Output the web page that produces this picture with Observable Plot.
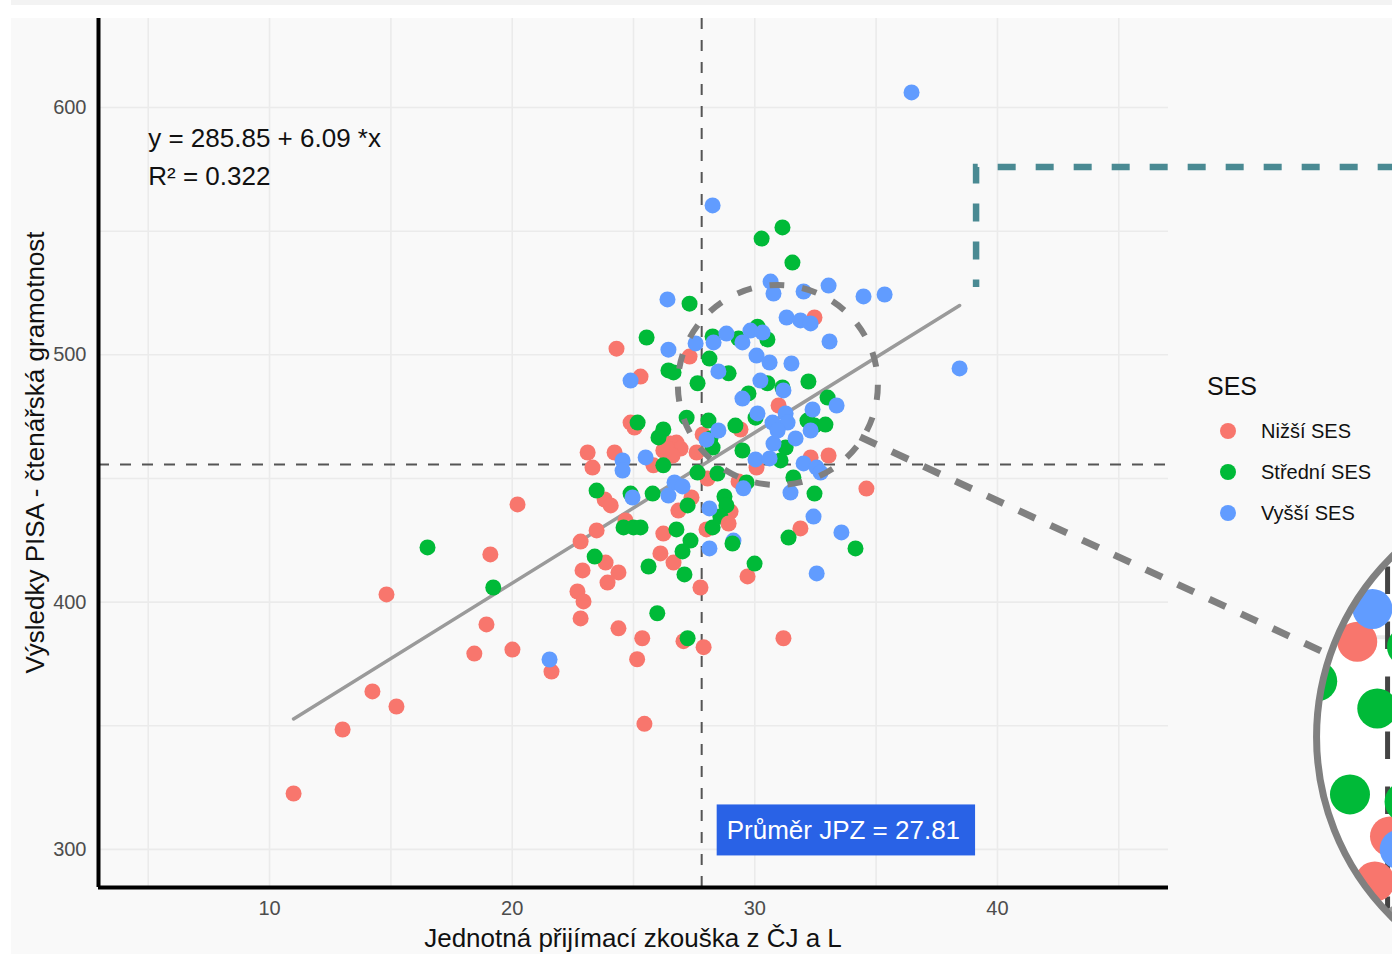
<!DOCTYPE html>
<html><head><meta charset="utf-8">
<script src="https://cdn.jsdelivr.net/npm/d3@7"></script>
<script src="https://cdn.jsdelivr.net/npm/@observablehq/plot@0.6"></script>
<style>
html,body{margin:0;padding:0;background:#fff;overflow:hidden;}
#chart{position:relative;width:1392px;height:954px;overflow:hidden;}
</style></head><body><div id="chart"></div>
<script>
// ---- categories & colours ----
const sesLevels = ["Nižší SES", "Střední SES", "Vyšší SES"];
const sesColors = ["#F8766D", "#00BA38", "#619CFF"];

// ---- series: Nižší SES ----
const lowX = [32.46,24.30,27.31,25.29,30.98,24.88,25.04,29.41,27.85,26.52,26.77,26.94,26.23,27.60,26.36,23.11,24.22,26.61,23.31,25.82,28.05,29.33,23.81,24.06,27.39,29.00,26.85,34.60,30.07,32.30,33.04,20.22,24.67,23.48,22.82,23.85,24.38,23.93,22.90,22.69,22.94,22.82,24.38,25.36,25.15,27.06,27.89,26.23,26.11,26.65,28.92,28.01,29.70,27.76,31.88,31.18,19.10,18.94,18.44,20.01,21.62,10.99,13.01,14.24,15.23,14.82,25.45];
const lowY = [515.1,502.5,499.3,491.2,479.5,472.6,470.6,469.8,467.8,464.1,464.5,462.1,461.3,460.5,462.5,460.5,460.5,459.3,454.4,455.3,450.0,448.8,441.5,439.1,442.3,436.6,437.0,445.9,454.4,458.5,459.3,439.5,433.0,429.0,424.5,416.0,412.0,407.9,412.8,404.3,400.3,393.4,389.4,385.4,376.9,384.2,381.8,427.7,419.7,416.0,431.8,429.4,410.4,405.9,429.8,385.4,419.3,391.0,379.2,380.8,371.9,322.6,348.5,363.9,357.8,403.1,350.8];
// ---- series: Střední SES ----
const midX = [30.28,31.14,31.55,27.31,25.54,28.26,29.33,30.11,30.52,28.13,26.44,26.65,28.92,27.64,30.52,31.14,32.21,29.74,33.00,30.03,32.17,32.46,32.91,27.19,28.09,25.17,29.20,26.23,26.03,28.17,28.26,29.49,31.27,26.23,27.64,28.46,29.66,23.48,24.88,25.79,27.23,28.75,28.83,28.58,31.59,32.46,31.06,24.59,25.00,25.29,23.40,25.98,27.23,26.77,27.35,27.02,27.10,25.62,28.26,29.08,29.99,31.39,34.15,16.51,19.22];
const midY = [547.0,551.5,537.3,520.7,507.0,507.4,506.6,511.4,506.2,498.5,493.7,492.9,492.5,488.5,488.5,486.8,489.2,484.4,482.7,474.6,473.4,471.4,471.8,474.6,473.4,472.6,471.4,469.8,466.6,466.2,462.5,461.3,462.5,455.3,452.4,452.0,448.4,445.1,443.9,443.9,439.1,442.7,439.1,434.6,450.4,443.9,457.3,430.2,430.2,430.2,418.4,395.5,385.4,429.4,424.9,420.5,411.2,414.4,430.2,423.7,415.6,426.1,421.7,422.1,405.9];
// ---- series: Vyšší SES ----
const highX = [36.46,28.26,30.65,30.77,32.01,33.04,34.48,35.35,26.40,31.31,31.88,32.30,33.08,26.44,28.30,27.56,28.83,29.49,29.82,30.32,30.07,30.61,31.51,24.88,28.50,30.23,31.18,29.49,33.37,32.38,30.11,31.27,31.35,30.73,28.50,28.01,31.68,30.77,30.94,32.30,24.55,24.55,25.50,26.69,27.02,29.53,24.96,26.44,28.13,32.42,31.47,30.03,30.61,32.01,32.55,32.71,29.12,28.13,33.57,32.55,21.54,38.44];
const highY = [606.1,560.4,529.6,524.8,525.6,528.0,523.6,524.4,522.4,515.1,513.9,512.7,505.4,502.1,505.0,504.6,508.6,505.0,509.8,509.0,499.7,496.9,496.5,489.6,493.3,489.6,485.6,482.3,479.5,477.9,476.3,476.3,472.6,472.6,469.4,465.7,466.2,464.1,469.4,469.4,457.3,453.2,458.5,448.4,446.8,446.0,442.3,443.1,437.9,434.6,444.3,457.7,458.1,456.1,454.4,452.4,424.9,421.7,428.2,411.6,376.8,494.5];

// ---- statistics (from the annotations) ----
const intercept = 285.85, slope = 6.09, rSquared = 0.322;
const meanJPZ = 27.81;
const meanPISA = 455.6;

// ---- ticks ----
const xTicks = [10, 20, 30, 40];
const yTicks = [300, 400, 500, 600];
const xMinor = [5, 15, 25, 35, 45];
const yMinor = [350, 450, 550];

// ---- texts ----
const xTitle = "Jednotná přijímací zkouška z ČJ a L";
const yTitle = "Výsledky PISA - čtenářská gramotnost";
const legendTitle = "SES";
const eqText = `y = ${intercept.toFixed(2)} + ${slope.toFixed(2)} *x\nR² = ${rSquared.toFixed(3)}`;
const meanLabel = `Průměr JPZ = ${meanJPZ.toFixed(2)}`;

const FONT = "Liberation Sans, Arial, Helvetica, sans-serif";

// build table
const series = [[lowX, lowY], [midX, midY], [highX, highY]];
const data = [];
const nMax = d3.max(series, s => s[0].length);
for (let i = 0; i < nMax; i++) {
  series.forEach(([xs, ys], k) => {
    if (i < xs.length) data.push({x: xs[i], y: ys[i], ses: sesLevels[k]});
  });
}

const xDomain = [2.95, 47.05];
const yDomain = [284.6, 636.0];
const xLo = d3.min(data, d => d.x), xHi = d3.max(data, d => d.x);
const regLine = [xLo, xHi].map(x => ({x, y: intercept + slope * x}));

// annotation geometry (data units)
const focus = {x: 30.95, y: 487.8, rPx: 100};
const lens = {cx: 63.6, cy: 345.3, rPx: 253, srcX: 30.81, srcY: 483.9, mag: 2.5};
const connector = [{x: 34.36, y: 466.6}, {x: 53.72, y: 378.4}];
const tealBox = [{x: 58, y: 575.7}, {x: 39.14, y: 575.7}, {x: 39.14, y: 527.2}];

const plot = Plot.plot({
  width: 1392, height: 954,
  marginTop: 18, marginBottom: 67, marginLeft: 98, marginRight: 224,
  x: {domain: xDomain, label: null},
  y: {domain: yDomain, label: null},
  color: {domain: sesLevels, range: sesColors},
  style: {background: "transparent", fontFamily: FONT, overflow: "visible"},
  marks: [
    Plot.gridX(xMinor.concat(xTicks), {stroke: "#ebebeb", strokeOpacity: 1, strokeWidth: 1.6}),
    Plot.gridY(yMinor.concat(yTicks), {stroke: "#ebebeb", strokeOpacity: 1, strokeWidth: 1.6}),
    Plot.ruleY([meanPISA], {stroke: "#555", strokeWidth: 2, strokeDasharray: "11,11"}),
    Plot.ruleX([meanJPZ], {stroke: "#555", strokeWidth: 2, strokeDasharray: "11,11"}),
    Plot.line(regLine, {x: "x", y: "y", stroke: "#9a9a9a", strokeWidth: 3.5}),
    Plot.dot(data, {x: "x", y: "y", fill: "ses", r: 8}),
    Plot.dot([focus], {x: "x", y: "y", r: focus.rPx, fill: "none", stroke: "#808080", strokeWidth: 6, strokeDasharray: "15,18"}),
    Plot.text([eqText], {x: 5, y: 581.2, text: d => d, textAnchor: "start", fontSize: 26, lineHeight: 1.45, fill: "#111", fontFamily: FONT}),
    Plot.text([meanLabel], {x: meanJPZ, y: 307.6, dx: 25, text: d => d, textAnchor: "start", fontSize: 26, fill: "white", fontFamily: FONT, className: "meanlabel"}),
    Plot.axisX(xTicks, {tickSize: 0, tickPadding: 13, fontSize: 20, color: "#4d4d4d", label: null}),
    Plot.axisY(yTicks, {tickSize: 0, tickPadding: 12, fontSize: 20, color: "#4d4d4d", label: null}),
    Plot.ruleX([xDomain[0]], {stroke: "#000", strokeWidth: 4}),
    Plot.ruleY([yDomain[0]], {stroke: "#000", strokeWidth: 4})
  ]
});

document.getElementById("chart").appendChild(plot);

const svg = d3.select(plot);
const W = 1392, H = 954;
// background
svg.insert("rect", ":first-child").attr("x", 11).attr("y", 18).attr("width", W - 11).attr("height", H - 18).attr("fill", "#f9f9f9");
svg.insert("rect", ":first-child").attr("x", 11).attr("y", 0).attr("width", W - 11).attr("height", 5).attr("fill", "#f3f3f3");

const xS = plot.scale("x"), yS = plot.scale("y");
const sx = d3.scaleLinear(xS.domain, xS.range);
const sy = d3.scaleLinear(yS.domain, yS.range);

// label box behind mean label (same transform as the text element)
const ml = plot.querySelector(".meanlabel text");
if (ml) {
  const bb = ml.getBBox();
  const cy = bb.y + bb.height / 2;
  const r = document.createElementNS("http://www.w3.org/2000/svg", "rect");
  ml.parentNode.insertBefore(r, ml);
  d3.select(r)
    .attr("transform", ml.getAttribute("transform"))
    .attr("x", bb.x - 10).attr("y", cy - 25.5)
    .attr("width", bb.width + 25).attr("height", 51)
    .attr("fill", "#2962e6");
}

// axis titles
svg.append("text").attr("x", (xS.range[0] + xS.range[1]) / 2).attr("y", 938)
  .attr("text-anchor", "middle").attr("dominant-baseline", "central")
  .attr("font-size", 26).attr("font-family", FONT).attr("fill", "#111").text(xTitle);
svg.append("text").attr("transform", `translate(35,${(yS.range[0] + yS.range[1]) / 2}) rotate(-90)`)
  .attr("text-anchor", "middle").attr("dominant-baseline", "central")
  .attr("font-size", 26).attr("font-family", FONT).attr("fill", "#111").text(yTitle);

// legend
const lg = svg.append("g").attr("font-family", FONT).attr("text-anchor", "start");
lg.append("text").attr("x", 1207).attr("y", 386).attr("dominant-baseline", "central")
  .attr("text-anchor", "start").attr("font-size", 25).attr("fill", "#111").text(legendTitle);
sesLevels.forEach((s, i) => {
  const yy = 431 + i * 41;
  lg.append("circle").attr("cx", 1228).attr("cy", yy).attr("r", 8).attr("fill", sesColors[i]);
  lg.append("text").attr("x", 1261).attr("y", yy).attr("dominant-baseline", "central")
    .attr("text-anchor", "start").attr("font-size", 20).attr("fill", "#111").text(s);
});

// teal dashed box
svg.append("path")
  .attr("d", d3.line().x(d => sx(d.x)).y(d => sy(d.y))(tealBox))
  .attr("fill", "none").attr("stroke", "#4a8a93").attr("stroke-width", 6.5)
  .attr("stroke-dasharray", "18,20");

// connector
svg.append("path")
  .attr("d", d3.line().x(d => sx(d.x)).y(d => sy(d.y))(connector))
  .attr("fill", "none").attr("stroke", "#808080").attr("stroke-width", 7)
  .attr("stroke-dasharray", "18,17");

// magnifier lens
const LCX = sx(lens.cx), LCY = sy(lens.cy);
const SCX = sx(lens.srcX), SCY = sy(lens.srcY);
const M = lens.mag;
const px = v => LCX + (v - SCX) * M;
const py = v => LCY + (v - SCY) * M;
svg.append("defs").append("clipPath").attr("id", "lensClip")
  .append("circle").attr("cx", LCX).attr("cy", LCY).attr("r", lens.rPx);
const lensG = svg.append("g").attr("clip-path", "url(#lensClip)");
lensG.append("circle").attr("cx", LCX).attr("cy", LCY).attr("r", lens.rPx).attr("fill", "#fff");
xMinor.concat(xTicks).forEach(v => {
  lensG.append("line").attr("x1", px(sx(v))).attr("x2", px(sx(v)))
    .attr("y1", py(yS.range[1])).attr("y2", py(yS.range[0]))
    .attr("stroke", "#ebebeb").attr("stroke-width", 1.6 * M);
});
yMinor.concat(yTicks).forEach(v => {
  lensG.append("line").attr("y1", py(sy(v))).attr("y2", py(sy(v)))
    .attr("x1", px(xS.range[0])).attr("x2", px(xS.range[1]))
    .attr("stroke", "#ebebeb").attr("stroke-width", 1.6 * M);
});
lensG.append("line").attr("x1", px(sx(meanJPZ))).attr("x2", px(sx(meanJPZ)))
  .attr("y1", py(yS.range[1])).attr("y2", py(yS.range[0]))
  .attr("stroke", "#444").attr("stroke-width", 2 * M).attr("stroke-dasharray", `${11 * M},${11 * M}`);
lensG.append("line").attr("y1", py(sy(meanPISA))).attr("y2", py(sy(meanPISA)))
  .attr("x1", px(xS.range[0])).attr("x2", px(xS.range[1]))
  .attr("stroke", "#444").attr("stroke-width", 2 * M).attr("stroke-dasharray", `${11 * M},${11 * M}`);
lensG.append("line")
  .attr("x1", px(sx(regLine[0].x))).attr("y1", py(sy(regLine[0].y)))
  .attr("x2", px(sx(regLine[1].x))).attr("y2", py(sy(regLine[1].y)))
  .attr("stroke", "#9a9a9a").attr("stroke-width", 3.5 * M);
data.forEach(d => {
  lensG.append("circle").attr("cx", px(sx(d.x))).attr("cy", py(sy(d.y))).attr("r", 8 * M)
    .attr("fill", sesColors[sesLevels.indexOf(d.ses)]);
});
svg.append("circle").attr("cx", LCX).attr("cy", LCY).attr("r", lens.rPx)
  .attr("fill", "none").attr("stroke", "#808080").attr("stroke-width", 7);
</script>
</body></html>
